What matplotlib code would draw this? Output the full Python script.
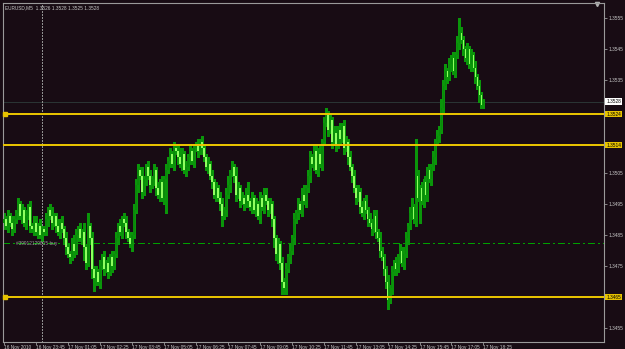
"""EURUSD M5 candlestick chart, MetaTrader style (green on dark)."""
import matplotlib
matplotlib.use("Agg")
import matplotlib.pyplot as plt
from matplotlib.patches import Rectangle
from matplotlib.transforms import blended_transform_factory

plt.rcParams["font.family"] = ["Liberation Sans", "DejaVu Sans"]

# ---- data: prices in pips above 1.3400 (4-digit quotes), one bar per 5 min ----
closes = [
    90, 88, 91, 89, 87, 90,
    92, 95, 91, 93, 89,
    91, 94, 88, 87, 89,
    86, 88, 85, 87, 86,
    90, 93, 91, 89, 91,
    88, 86, 89, 87, 84,
    81, 79, 78, 82, 80,
    85, 87, 84, 86, 81,
    76, 88, 84, 74, 71,
    73, 70, 75, 78, 74,
    76, 73, 78, 75, 79,
    84, 88, 86, 90, 89,
    86, 84, 82, 85, 93,
    101, 106, 104, 99, 103,
    107, 104, 101, 103, 106,
    100, 98, 102, 97, 103,
    106, 109, 111, 108, 113,
    112, 110, 108, 111, 106,
    107, 110, 112, 109, 113,
    114, 112, 115, 113, 110,
    107, 108, 104, 102, 98,
    100, 97, 95, 91, 93,
    98, 101, 105, 107, 104,
    98, 100, 96, 97, 95,
    98, 96, 94, 97, 93,
    95, 91, 97, 94, 98,
    96, 93, 95, 90, 84,
    79, 82, 76, 70, 68,
    74, 78, 80, 84, 90,
    92, 95, 93, 98, 96,
    100, 104, 110, 108, 112,
    106, 111, 108, 115, 121,
    124, 119, 122, 115, 118,
    114, 119, 116, 120, 113,
    115, 110, 107, 104, 100,
    97, 99, 94, 92, 96,
    93, 90, 89, 87, 91,
    86, 84, 80, 78, 74,
    70, 64, 68, 73, 76,
    74, 78, 80, 76, 79,
    84, 88, 92, 94, 90,
    104, 97, 100, 96, 102,
    98, 106, 103, 107, 110,
    115, 117, 119, 126, 133,
    138, 136, 140, 142, 138,
    143, 147, 150, 148, 145,
    142, 145, 140, 143, 139,
    136, 133, 130, 127, 128,
]
first_open = 89

upper_wicks = [
    2, 1, 2, 1, 2, 1,
    1, 2, 1, 2, 1,
    2, 1, 2, 1, 2,
    2, 1, 2, 1, 1,
    2, 1, 2, 3, 1,
    1, 2, 1, 2, 1,
    2, 1, 1, 2, 3,
    2, 1, 2, 1, 3,
    1, 4, 1, 2, 1,
    2, 1, 2, 1, 2,
    1, 2, 1, 2, 1,
    2, 1, 2, 1, 2,
    2, 1, 2, 1, 2,
    2, 2, 1, 3, 1,
    1, 2, 2, 1, 2,
    1, 2, 1, 2, 1,
    2, 1, 2, 1, 2,
    1, 2, 3, 2, 1,
    2, 1, 2, 1, 1,
    1, 2, 1, 2, 1,
    1, 2, 1, 2, 1,
    2, 1, 2, 2, 1,
    2, 3, 1, 2, 1,
    3, 2, 1, 2, 1,
    2, 4, 1, 2, 1,
    2, 1, 2, 1, 2,
    2, 1, 2, 1, 1,
    1, 2, 1, 2, 1,
    2, 1, 2, 1, 2,
    1, 2, 1, 2, 3,
    1, 2, 2, 1, 2,
    2, 2, 3, 1, 2,
    2, 1, 2, 1, 2,
    2, 1, 2, 1, 2,
    2, 1, 2, 1, 2,
    1, 2, 1, 2, 1,
    2, 1, 2, 1, 2,
    2, 1, 2, 1, 1,
    1, 2, 1, 2, 1,
    2, 1, 2, 1, 2,
    2, 1, 2, 3, 1,
    12, 2, 1, 2, 1,
    2, 1, 2, 1, 2,
    1, 2, 1, 3, 2,
    2, 1, 2, 1, 2,
    1, 2, 5, 2, 1,
    1, 2, 1, 2, 1,
    2, 1, 2, 1, 1,
]

lower_wicks = [
    2, 1, 2, 1, 2, 1,
    1, 2, 1, 2, 1,
    2, 1, 2, 1, 2,
    1, 2, 1, 2, 1,
    1, 2, 1, 2, 1,
    2, 1, 2, 1, 2,
    2, 1, 2, 1, 2,
    1, 2, 1, 2, 4,
    2, 1, 2, 3, 4,
    2, 1, 2, 1, 2,
    1, 2, 1, 2, 1,
    1, 2, 1, 2, 1,
    2, 1, 1, 2, 1,
    1, 2, 1, 2, 1,
    2, 1, 2, 1, 2,
    2, 1, 2, 1, 2,
    11, 1, 2, 1, 2,
    1, 2, 1, 2, 1,
    2, 1, 2, 1, 2,
    1, 2, 1, 2, 1,
    1, 2, 1, 2, 1,
    2, 1, 2, 3, 1,
    2, 1, 2, 1, 2,
    2, 1, 2, 1, 2,
    1, 2, 1, 2, 1,
    2, 1, 2, 1, 2,
    1, 2, 1, 2, 3,
    2, 3, 2, 4, 2,
    2, 1, 2, 1, 2,
    1, 2, 1, 2, 1,
    2, 1, 2, 1, 2,
    1, 2, 1, 2, 1,
    1, 2, 1, 2, 1,
    2, 1, 2, 1, 2,
    1, 2, 1, 2, 1,
    2, 1, 2, 1, 2,
    1, 2, 1, 2, 1,
    2, 1, 2, 1, 2,
    2, 3, 1, 2, 1,
    2, 1, 2, 1, 2,
    1, 2, 1, 2, 1,
    2, 1, 8, 1, 2,
    1, 2, 1, 2, 1,
    2, 1, 2, 1, 2,
    1, 2, 1, 2, 1,
    2, 1, 2, 1, 2,
    1, 2, 1, 2, 1,
    2, 1, 2, 1, 1,
]

time_labels = [
    "16 Nov 2010", "16 Nov 23:45", "17 Nov 01:05", "17 Nov 02:25",
    "17 Nov 03:45", "17 Nov 05:05", "17 Nov 06:25", "17 Nov 07:45",
    "17 Nov 09:05", "17 Nov 10:25", "17 Nov 11:45", "17 Nov 13:05",
    "17 Nov 14:25", "17 Nov 15:45", "17 Nov 17:05", "17 Nov 18:25",
]
price_ticks = [1.3455, 1.3475, 1.3485, 1.3495, 1.3505, 1.3535, 1.3545, 1.3555]
level_lines = [1.3524, 1.3514, 1.3465]
bid_price = 1.3528
order_price = 1.34824
order_label = "#39912129815 buy"
header = "EURUSD,M5  1.3526 1.3528 1.3525 1.3528"

assert len(closes) == len(upper_wicks) == len(lower_wicks)

BG = "#180c14"
BULL = "#0a8a0a"
BEAR = "#90ff60"
WICK = "#0a960a"
GOLD = "#e6c200"
FRAME = "#9a9a9a"
TXT = "#c8c8c8"
FS = 3.4

to_price = lambda p: 1.34 + p / 10000.0
opens = [first_open] + closes[:-1]

fig = plt.figure(figsize=(6.25, 3.49), dpi=100, facecolor=BG)
ax = fig.add_axes([3 / 625, 7 / 349, 601 / 625, 339 / 349], facecolor=BG)

# candles, drawn without antialiasing like the terminal does
for i, (o, c, uw, lw) in enumerate(zip(opens, closes, upper_wicks, lower_wicks)):
    hi = max(o, c) + uw
    lo = min(o, c) - lw
    ax.plot([i, i], [to_price(lo), to_price(hi)], color=WICK, lw=0.75,
            solid_capstyle="butt", antialiased=False, zorder=2)
    body_lo, body_hi = min(o, c), max(o, c)
    h = max(body_hi - body_lo, 0.3)
    col = BULL if c >= o else BEAR
    ax.add_patch(Rectangle((i - 0.45, to_price(body_lo)), 0.9, h / 10000.0,
                           facecolor=col, edgecolor="none", antialiased=False,
                           zorder=3))

ax.set_xlim(-0.6, 300.4)
ax.set_ylim(1.34505, 1.35598)

# horizontal levels
for lv in level_lines:
    ax.axhline(lv, color=GOLD, lw=1.2, antialiased=False, zorder=4)
for lv in (level_lines[0], level_lines[2]):
    ax.plot([0.3], [lv], marker="s", ms=2.6, color=GOLD, zorder=5, clip_on=False)
ax.axhline(bid_price, color="#2a3434", lw=0.5, antialiased=False, zorder=1)
ax.axhline(order_price, color="#00a000", lw=0.75, ls=(0, (6, 3, 1, 3)),
           antialiased=False, zorder=1)
ax.text(6, order_price, order_label, fontsize=FS, color="#a0a0a0",
        va="center", ha="left", zorder=6)

# period separator
ax.axvline(19, color="#909090", lw=0.7, ls=(0, (2, 2)), antialiased=False, zorder=1)

# frame
for side in ("left", "right", "bottom", "top"):
    ax.spines[side].set_color(FRAME)
    ax.spines[side].set_linewidth(0.8)

# right price scale
ax.yaxis.tick_right()
ax.set_yticks(price_ticks)
ax.set_yticklabels([f"{p:.4f}" for p in price_ticks])
ax.tick_params(axis="y", colors=FRAME, labelcolor=TXT, labelsize=FS,
               length=2, width=0.6, pad=1.5)

# time scale
ax.set_xticks([16 * k for k in range(len(time_labels))])
ax.set_xticklabels(time_labels, ha="left")
ax.tick_params(axis="x", colors=FRAME, labelcolor=TXT, labelsize=FS,
               length=2, width=0.6, pad=0.3, direction="out")

trans = blended_transform_factory(ax.transAxes, ax.transData)
for lv in level_lines:
    ax.text(1.004, lv, f"{lv:.4f}", transform=trans, fontsize=FS, color="black",
            va="center", ha="left", clip_on=False, zorder=7,
            bbox=dict(boxstyle="square,pad=0.2", fc=GOLD, ec="none"))
ax.text(1.004, bid_price, f"{bid_price:.4f}", transform=trans, fontsize=FS,
        color="black", va="center", ha="left", clip_on=False, zorder=7,
        bbox=dict(boxstyle="square,pad=0.2", fc="white", ec="none"))

ax.text(0.004, 0.993, header, transform=ax.transAxes, fontsize=FS, color=TXT,
        va="top", ha="left")
ax.plot([0.988], [0.998], marker="v", ms=3, color="#b0b0b0",
        transform=ax.transAxes, clip_on=False)

fig.savefig("out.png", dpi=100, facecolor=BG)
